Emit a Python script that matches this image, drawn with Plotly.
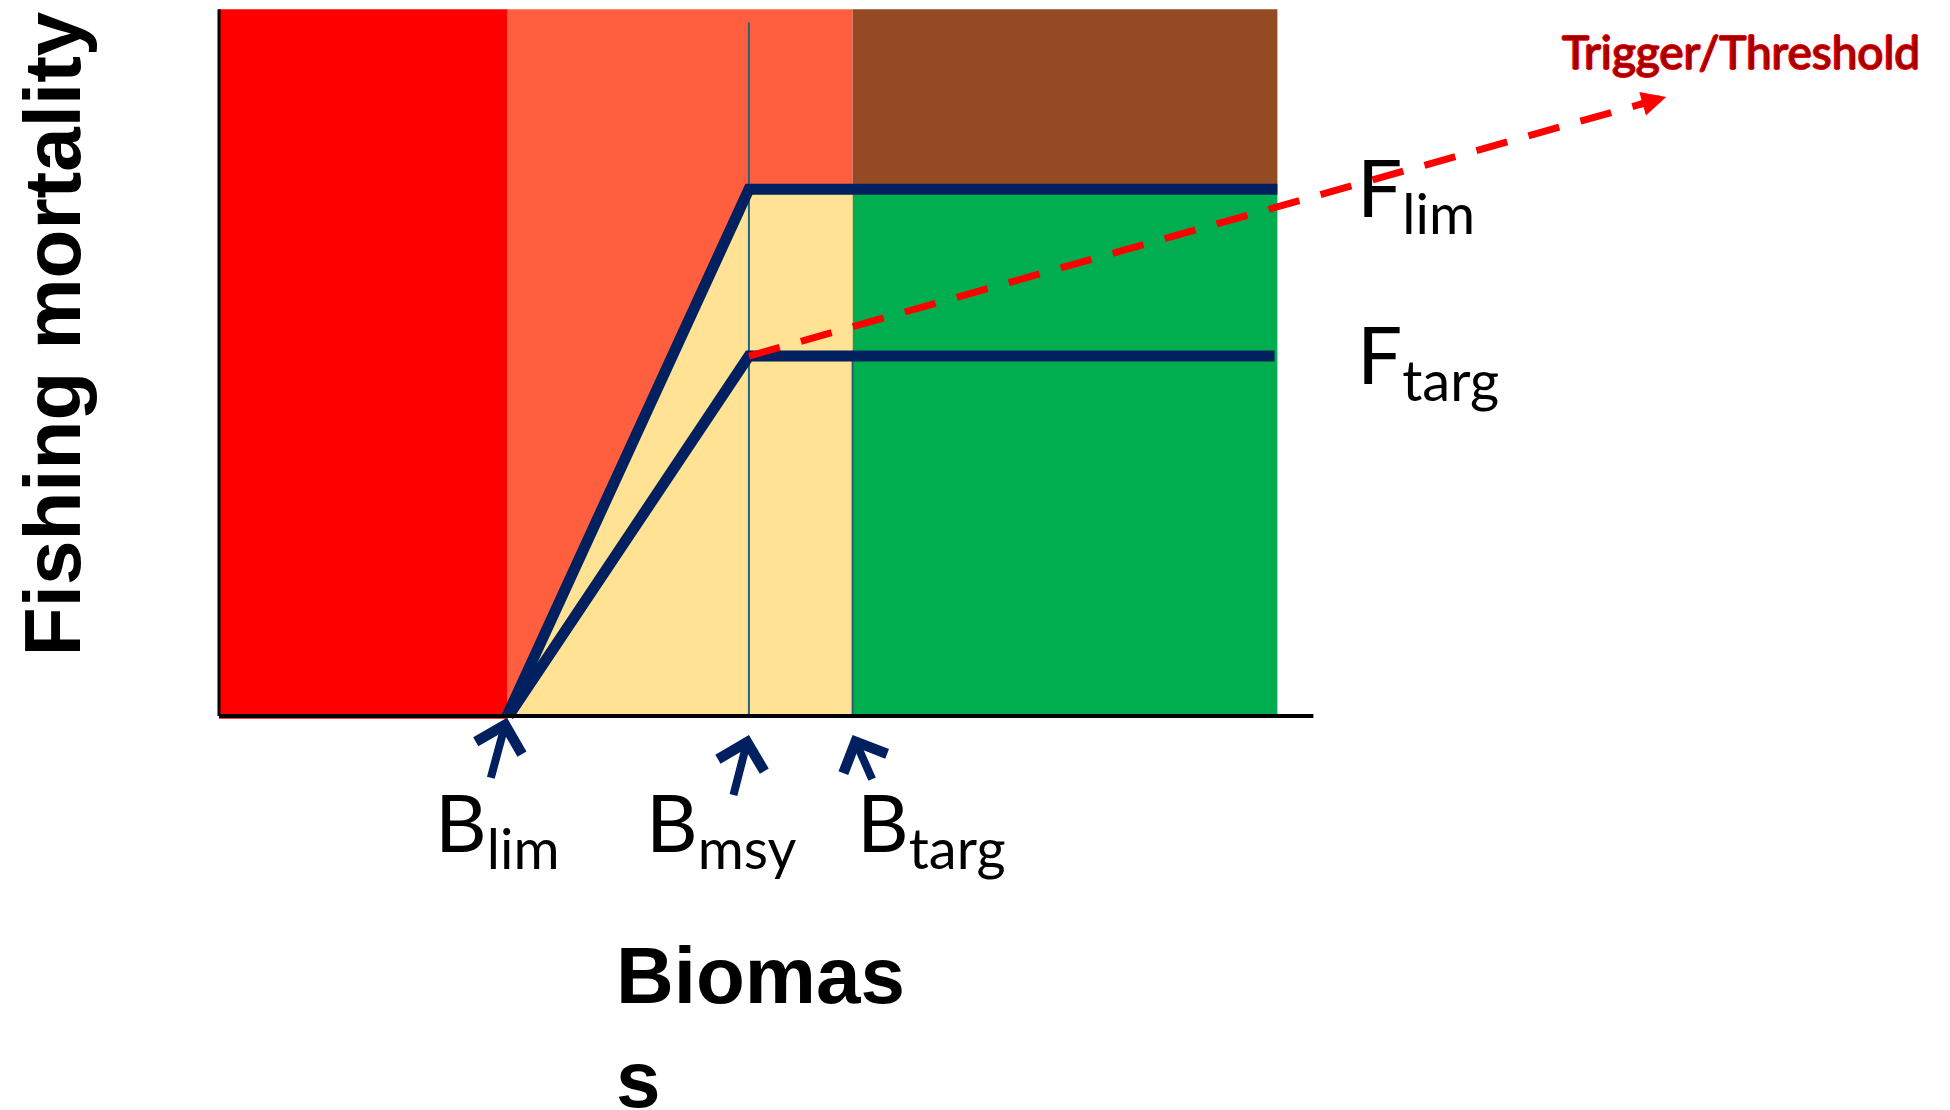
import plotly.graph_objects as go

# ---------------- data (conceptual harvest-control-rule values) ----------------
B_LIM = 20.0        # limit biomass reference point
B_MSY = 36.8        # biomass at MSY
B_TARG = 44.0       # target biomass
B_MAX = 73.5        # right edge of the coloured zones
B_AXIS_END = 76.0   # end of biomass axis line

F_LIM = 0.60        # limit fishing mortality
F_TARG = 0.41       # target fishing mortality
F_MAX = 0.805       # top of the coloured zones

TRIGGER_TIP = [100.5, 0.705]   # end of Trigger/Threshold arrow (B, F)

ref_points = ["lim", "msy", "targ"]
ref_values = [B_LIM, B_MSY, B_TARG]

# HCR polylines
hcr_upper_x = [B_LIM, B_MSY, B_MAX]
hcr_upper_y = [0.0, F_LIM, F_LIM]
hcr_lower_x = [B_LIM + 0.1, B_MSY, B_MAX - 0.2]
hcr_lower_y = [0.0, F_TARG, F_TARG]

# colours
RED = "#FF0000"
SALMON = "#FF5F3E"
BROWN = "#944A22"
GREEN = "#00AE50"
YELLOW = "#FFE294"
NAVY = "#002060"
THIN = "#23617E"

# ---------------- figure ----------------
W, H = 1950, 1110
PX_X = 14.4     # pixels per biomass unit
PX_Y = 878.0    # pixels per F unit
X0_PX, Y0_PX = 211, 708   # page body margin (8px) compensated
x_range = [-X0_PX / PX_X, (W - X0_PX) / PX_X]
y_range = [-(H - Y0_PX) / PX_Y, Y0_PX / PX_Y]

fig = go.Figure()

shapes = []
# zones
shapes.append(dict(type="rect", x0=0, x1=B_LIM, y0=-0.003, y1=F_MAX, fillcolor=RED, line_width=0, layer="below"))
shapes.append(dict(type="rect", x0=B_LIM, x1=B_TARG, y0=0, y1=F_MAX, fillcolor=SALMON, line_width=0, layer="below"))
shapes.append(dict(type="rect", x0=B_TARG, x1=B_MAX, y0=F_LIM, y1=F_MAX, fillcolor=BROWN, line_width=0, layer="below"))
shapes.append(dict(type="rect", x0=B_TARG, x1=B_MAX, y0=0, y1=F_LIM, fillcolor=GREEN, line_width=0, layer="below"))
shapes.append(dict(type="path",
                   path=f"M {B_LIM},0 L {B_MSY},{F_LIM} L {B_TARG},{F_LIM} L {B_TARG},0 Z",
                   fillcolor=YELLOW, line_width=0, layer="below"))
fig.update_layout(shapes=shapes)

# thin vertical reference lines
fig.add_trace(go.Scatter(x=[B_MSY, B_MSY], y=[0, F_MAX - 0.015], mode="lines",
                         line=dict(color=THIN, width=2), hoverinfo="skip", showlegend=False))
fig.add_trace(go.Scatter(x=[B_TARG, B_TARG], y=[0, F_TARG], mode="lines",
                         line=dict(color=THIN, width=2), hoverinfo="skip", showlegend=False))

# HCR lines
fig.add_trace(go.Scatter(x=hcr_upper_x, y=hcr_upper_y, mode="lines",
                         line=dict(color=NAVY, width=11), hoverinfo="skip", showlegend=False))
fig.add_trace(go.Scatter(x=hcr_lower_x, y=hcr_lower_y, mode="lines",
                         line=dict(color=NAVY, width=11), hoverinfo="skip", showlegend=False))

# axes lines
fig.add_trace(go.Scatter(x=[0, 0], y=[0, F_MAX], mode="lines",
                         line=dict(color="black", width=3), hoverinfo="skip", showlegend=False))
fig.add_trace(go.Scatter(x=[0, B_AXIS_END], y=[0, 0], mode="lines",
                         line=dict(color="black", width=4), hoverinfo="skip", showlegend=False))

# trigger / threshold dashed line
dx = TRIGGER_TIP[0] - B_MSY
dy = TRIGGER_TIP[1] - F_TARG
frac = 0.975
fig.add_trace(go.Scatter(x=[B_MSY, B_MSY + dx * frac], y=[F_TARG, F_TARG + dy * frac], mode="lines",
                         line=dict(color=RED, width=7, dash="32px,22px"),
                         hoverinfo="skip", showlegend=False))

ann = []
# red arrow head
ann.append(dict(x=TRIGGER_TIP[0], y=TRIGGER_TIP[1], ax=TRIGGER_TIP[0] - dx * 0.03,
                ay=TRIGGER_TIP[1] - dy * 0.03, xref="x", yref="y", axref="x", ayref="y",
                showarrow=True, arrowhead=2, arrowsize=0.7, arrowwidth=7, arrowcolor=RED, text=""))

# reference-point arrows (tip at axis, tail below)
arrow_tail_offsets = [(-1.15, -0.07), (-1.1, -0.07), (1.4, -0.052)]
arrow_tip_y = [-0.002, -0.0216, -0.0216]
for bv, (ox, oy), ty in zip(ref_values, arrow_tail_offsets, arrow_tip_y):
    ann.append(dict(x=bv, y=ty, ax=bv + ox, ay=ty + oy, xref="x", yref="y", axref="x", ayref="y",
                    showarrow=True, arrowhead=4, arrowsize=1.15, arrowwidth=8, arrowcolor=NAVY, text=""))

LABEL_FONT = "Lato, 'Noto Sans', sans-serif"
# B labels
label_dx = [-5.12, -7.27, 0.2]
for name, bv, ox in zip(ref_points, ref_values, label_dx):
    ann.append(dict(x=bv + ox, y=-0.1265, xref="x", yref="y", xanchor="left", yanchor="middle",
                    text=f"B<sub>{name}</sub>", showarrow=False,
                    font=dict(family=LABEL_FONT, size=80, color="black")))

# F labels
f_label_dy = [-0.003, -0.003]
for name, fv, oy in zip(["lim", "targ"], [F_LIM, F_TARG], f_label_dy):
    ann.append(dict(x=B_MAX + 5.4, y=fv + oy, xref="x", yref="y", xanchor="left", yanchor="middle",
                    text=f"F<sub>{name}</sub>", showarrow=False,
                    font=dict(family=LABEL_FONT, size=80, color="black")))

# Trigger/Threshold text
ann.append(dict(x=93.1, y=0.757, xref="x", yref="y", xanchor="left", yanchor="middle",
                text="Trigger/Threshold", showarrow=False,
                font=dict(family="'Liberation Sans Narrow', Lato, sans-serif", size=46, color="#A00000",
                          shadow="1px 0 0 #FF0000, -1px 0 0 #FF0000, 0 1px 0 #FF0000, 0 -1px 0 #FF0000")))

# axis titles
ann.append(dict(x=-11.6, y=0.436, xref="x", yref="y", xanchor="center", yanchor="middle",
                text="<b>Fishing mortality</b>", textangle=-90, showarrow=False,
                font=dict(family="'Liberation Sans', Arial, sans-serif", size=80, color="black")))
ann.append(dict(x=27.4, y=-0.355, xref="x", yref="y", xanchor="left", yanchor="middle", align="left",
                text="<b>Biomas<br>s</b>", showarrow=False,
                font=dict(family="'Liberation Sans', Arial, sans-serif", size=80, color="black")))

fig.update_layout(
    annotations=ann,
    width=W, height=H,
    margin=dict(l=0, r=0, t=0, b=0),
    paper_bgcolor="white", plot_bgcolor="white",
    xaxis=dict(range=x_range, visible=False, fixedrange=True),
    yaxis=dict(range=y_range, visible=False, fixedrange=True),
    showlegend=False,
)

fig.write_html("out.html")
